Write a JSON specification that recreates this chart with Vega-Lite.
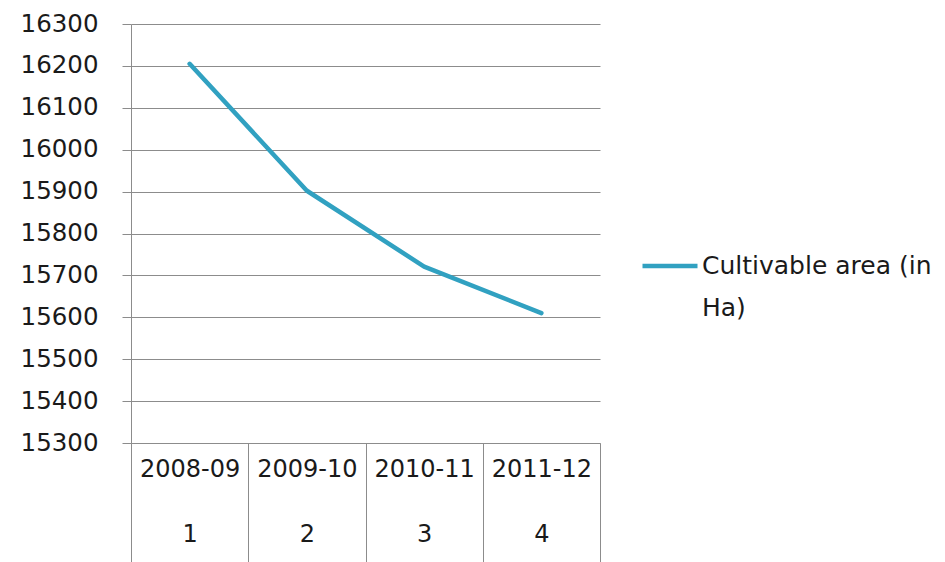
{
  "$schema": "https://vega.github.io/schema/vega-lite/v6.json",
  "width": 469,
  "height": 419,
  "autosize": "none",
  "padding": {"left": 131, "top": 24, "right": 345, "bottom": 119},
  "background": "white",
  "config": {
    "view": {"stroke": null},
    "font": "DejaVu Sans"
  },
  "data": {
    "values": [
      {"period": "2008-09", "n": "1", "series": "Cultivable area (in Ha)", "area": 16205},
      {"period": "2009-10", "n": "2", "series": "Cultivable area (in Ha)", "area": 15902},
      {"period": "2010-11", "n": "3", "series": "Cultivable area (in Ha)", "area": 15721},
      {"period": "2011-12", "n": "4", "series": "Cultivable area (in Ha)", "area": 15610}
    ]
  },
  "mark": {"type": "line", "strokeWidth": 4.5, "strokeCap": "round", "strokeJoin": "round"},
  "encoding": {
    "x": {
      "field": "period",
      "type": "ordinal",
      "sort": null,
      "scale": {"paddingInner": 0, "paddingOuter": 0},
      "axis": {
        "title": null,
        "labelAngle": 0,
        "domain": true,
        "domainColor": "#8c8c8c",
        "ticks": true,
        "tickBand": "extent",
        "tickSize": 125,
        "tickColor": "#8c8c8c",
        "grid": false,
        "labelExpr": "datum.value ? [datum.value, '' + (indexof(['2008-09','2009-10','2010-11','2011-12'], datum.value) + 1)] : ''",
        "labelPadding": -111,
        "labelLineHeight": 65,
        "labelFontSize": 24,
        "labelColor": "#1a1a1a",
        "labelBaseline": "top"
      }
    },
    "y": {
      "field": "area",
      "type": "quantitative",
      "scale": {"domain": [15300, 16300], "zero": false, "nice": false},
      "axis": {
        "title": null,
        "values": [15300, 15400, 15500, 15600, 15700, 15800, 15900, 16000, 16100, 16200, 16300],
        "format": "d",
        "grid": true,
        "gridColor": "#8c8c8c",
        "domainColor": "#8c8c8c",
        "tickColor": "#8c8c8c",
        "tickSize": 9,
        "labelPadding": 24,
        "labelFontSize": 24.5,
        "labelColor": "#1a1a1a"
      }
    },
    "color": {
      "field": "series",
      "type": "nominal",
      "scale": {"range": ["#31A1C1"]},
      "legend": {
        "title": null,
        "orient": "none",
        "legendX": 509,
        "legendY": 212,
        "symbolType": "stroke",
        "symbolStrokeWidth": 4.5,
        "symbolSize": 3025,
        "labelFontSize": 25,
        "labelColor": "#1a1a1a",
        "labelExpr": "['Cultivable area (in', 'Ha)']",
        "labelLimit": 400,
        "labelOffset": 2,
        "encode": {"labels": {"update": {"lineHeight": {"value": 42}}}}
      }
    }
  }
}
